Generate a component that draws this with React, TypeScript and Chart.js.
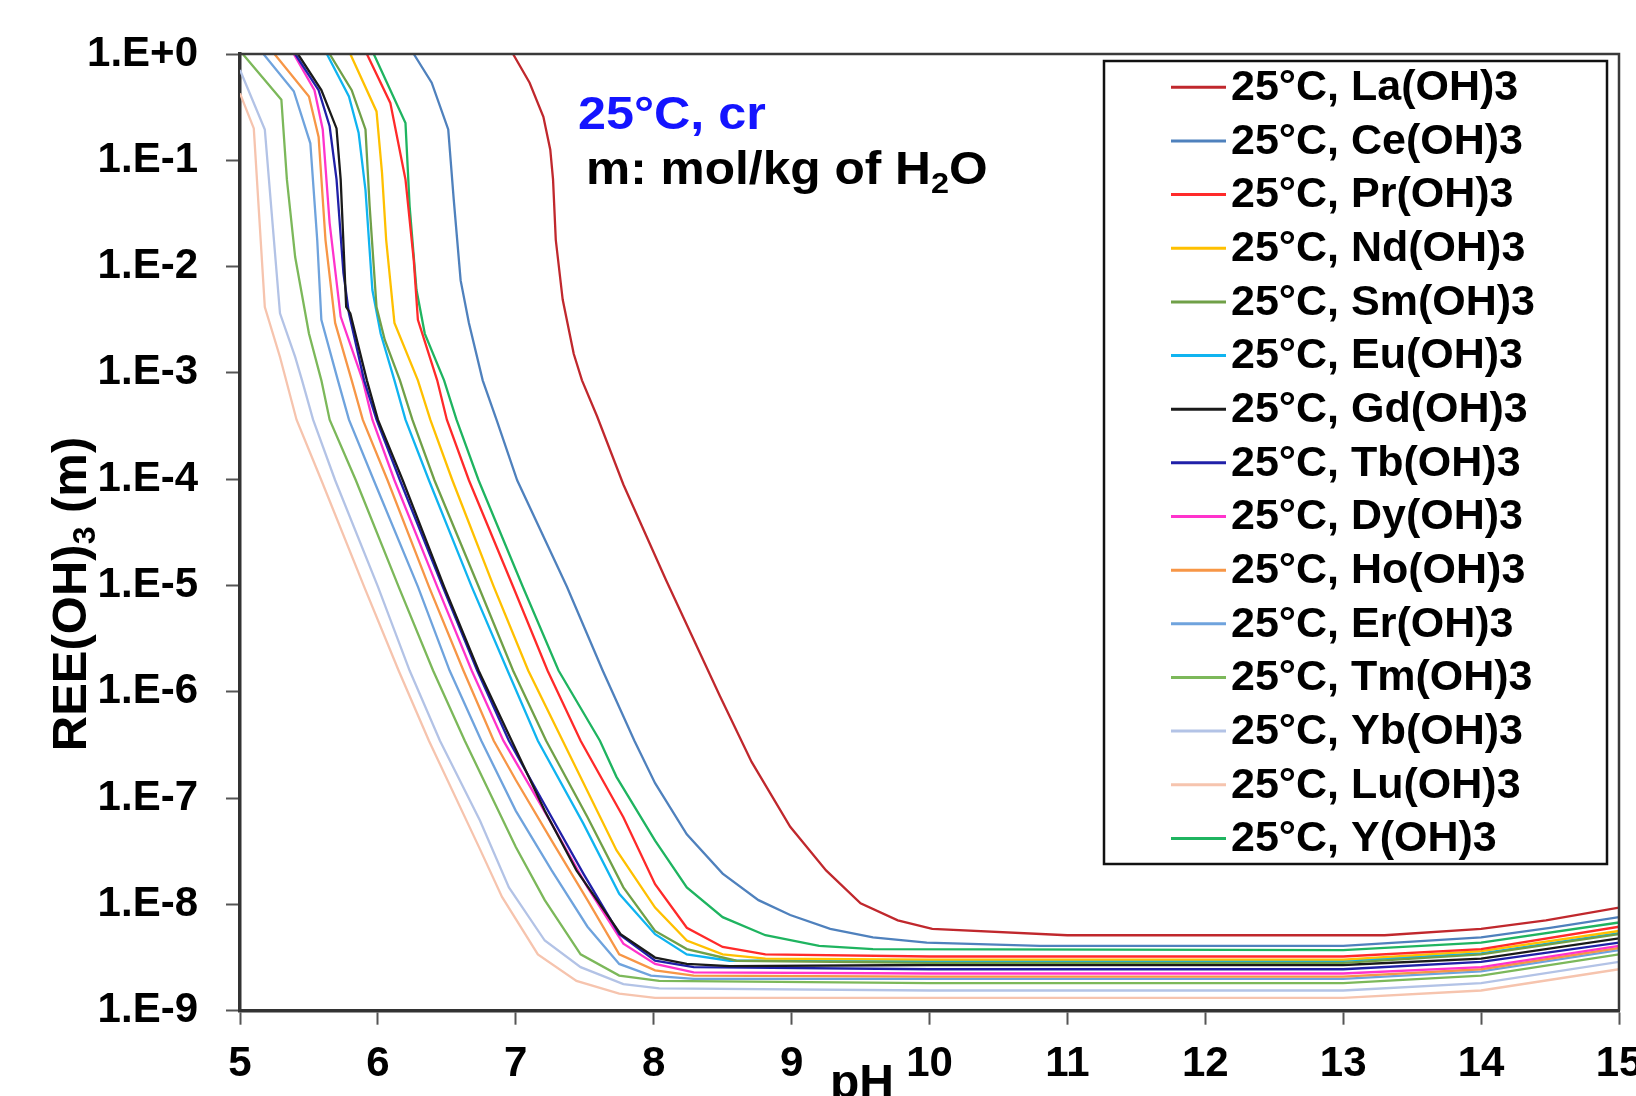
import { useEffect, useRef } from 'react';
import { Chart, registerables } from 'chart.js';

Chart.register(...registerables);

const FONT = "'Liberation Sans', Arial, Helvetica, sans-serif";

// ---- data (pH, log10 of molality) ----
const SERIES_LABELS = [
  '25°C, La(OH)3', '25°C, Ce(OH)3', '25°C, Pr(OH)3', '25°C, Nd(OH)3', '25°C, Sm(OH)3',
  '25°C, Eu(OH)3', '25°C, Gd(OH)3', '25°C, Tb(OH)3', '25°C, Dy(OH)3', '25°C, Ho(OH)3',
  '25°C, Er(OH)3', '25°C, Tm(OH)3', '25°C, Yb(OH)3', '25°C, Lu(OH)3', '25°C, Y(OH)3',
];
const SERIES_COLORS = [
  '#C0282D', '#4F81BD', '#FF2A2A', '#FFC000', '#70A048',
  '#10B4F0', '#1A1A1A', '#2020A8', '#FF33CC', '#F79646',
  '#6FA3DD', '#7CB85A', '#B3C3E6', '#F6C4AE', '#1FB460',
];

const LA_PH = [6.98, 7.10, 7.20, 7.25, 7.27, 7.29, 7.34, 7.42, 7.48, 7.59, 7.78, 8.09, 8.48, 8.71, 8.99, 9.25, 9.50, 9.77, 10.02, 11.0, 13.3, 14.0, 14.47, 15.0];
const LA_LOG = [0, -0.27, -0.59, -0.90, -1.18, -1.75, -2.31, -2.82, -3.07, -3.41, -4.05, -4.95, -6.04, -6.66, -7.27, -7.68, -7.99, -8.15, -8.23, -8.29, -8.29, -8.23, -8.15, -8.03];

const CE_PH = [6.26, 6.39, 6.51, 6.55, 6.60, 6.66, 6.76, 6.86, 7.01, 7.37, 7.63, 7.86, 8.01, 8.24, 8.50, 8.76, 8.99, 9.28, 9.59, 9.98, 10.8, 13.0, 14.0, 14.5, 15.0];
const CE_LOG = [0, -0.27, -0.71, -1.37, -2.13, -2.53, -3.07, -3.44, -4.01, -5.01, -5.80, -6.46, -6.86, -7.34, -7.71, -7.96, -8.10, -8.23, -8.31, -8.36, -8.39, -8.39, -8.31, -8.22, -8.12];

const PR_PH = [5.92, 6.09, 6.20, 6.26, 6.29, 6.43, 6.50, 6.66, 6.98, 7.23, 7.47, 7.78, 8.01, 8.24, 8.50, 8.81, 10.0, 13.0, 14.0, 15.0];
const PR_LOG = [0, -0.46, -1.18, -1.94, -2.50, -3.07, -3.44, -4.01, -5.01, -5.80, -6.46, -7.18, -7.81, -8.22, -8.40, -8.47, -8.49, -8.49, -8.42, -8.21];

const ND_PH = [5.80, 5.99, 6.03, 6.06, 6.12, 6.29, 6.38, 6.54, 6.84, 7.09, 7.34, 7.73, 8.01, 8.24, 8.50, 8.81, 10.0, 13.0, 14.0, 15.0];
const ND_LOG = [0, -0.54, -1.12, -1.75, -2.53, -3.07, -3.44, -4.01, -5.01, -5.80, -6.46, -7.49, -8.03, -8.34, -8.47, -8.51, -8.52, -8.52, -8.44, -8.25];

const SM_PH = [5.65, 5.81, 5.91, 5.94, 5.99, 6.05, 6.16, 6.25, 6.41, 6.73, 6.98, 7.22, 7.52, 7.78, 8.01, 8.24, 8.60, 10.0, 13.0, 14.0, 15.0];
const SM_LOG = [0, -0.34, -0.71, -1.43, -2.38, -2.69, -3.07, -3.44, -4.01, -5.01, -5.80, -6.46, -7.18, -7.84, -8.25, -8.42, -8.53, -8.55, -8.55, -8.47, -8.28];

const EU_PH = [5.63, 5.79, 5.86, 5.91, 5.96, 6.02, 6.12, 6.20, 6.37, 6.68, 6.94, 7.16, 7.49, 7.75, 8.01, 8.24, 8.55, 10.0, 13.0, 14.0, 15.0];
const EU_LOG = [0, -0.40, -0.74, -1.28, -2.22, -2.63, -3.07, -3.44, -4.01, -5.01, -5.80, -6.46, -7.24, -7.90, -8.28, -8.47, -8.53, -8.53, -8.53, -8.46, -8.27];

const GD_PH = [5.42, 5.59, 5.70, 5.73, 5.77, 5.80, 5.92, 6.00, 6.18, 6.48, 6.73, 6.97, 7.21, 7.44, 7.76, 8.01, 8.24, 8.55, 10.0, 13.0, 14.0, 15.0];
const GD_LOG = [0, -0.34, -0.70, -1.18, -2.38, -2.44, -3.07, -3.44, -4.01, -5.01, -5.80, -6.46, -7.12, -7.68, -8.28, -8.50, -8.56, -8.58, -8.57, -8.57, -8.51, -8.32];

const TB_PH = [5.40, 5.57, 5.65, 5.70, 5.75, 5.79, 5.90, 5.99, 6.16, 6.47, 6.72, 6.95, 7.26, 7.49, 7.75, 8.01, 8.29, 10.0, 13.0, 14.0, 15.0];
const TB_LOG = [0, -0.34, -0.68, -1.18, -2.06, -2.44, -3.07, -3.44, -4.01, -5.01, -5.80, -6.46, -7.18, -7.71, -8.28, -8.53, -8.59, -8.61, -8.61, -8.54, -8.36];

const DY_PH = [5.39, 5.54, 5.60, 5.65, 5.73, 5.89, 5.96, 6.12, 6.43, 6.68, 6.91, 7.26, 7.52, 7.78, 8.01, 8.29, 10.0, 13.0, 14.0, 15.0];
const DY_LOG = [0, -0.34, -0.71, -1.59, -2.47, -3.07, -3.44, -4.01, -5.01, -5.80, -6.46, -7.24, -7.84, -8.37, -8.56, -8.64, -8.65, -8.65, -8.59, -8.39];

const HO_PH = [5.25, 5.50, 5.57, 5.62, 5.69, 5.81, 5.89, 6.07, 6.37, 6.62, 6.84, 7.00, 7.26, 7.52, 7.75, 8.01, 8.29, 10.0, 13.0, 14.0, 15.0];
const HO_LOG = [0, -0.40, -0.78, -1.75, -2.53, -3.07, -3.44, -4.01, -5.01, -5.80, -6.46, -6.83, -7.40, -7.96, -8.47, -8.62, -8.67, -8.68, -8.68, -8.61, -8.41];

const ER_PH = [5.17, 5.39, 5.51, 5.56, 5.59, 5.71, 5.79, 5.97, 6.29, 6.52, 6.75, 7.00, 7.26, 7.52, 7.75, 7.98, 8.29, 10.0, 13.0, 14.0, 15.0];
const ER_LOG = [0, -0.35, -0.84, -1.75, -2.50, -3.07, -3.44, -4.01, -5.01, -5.80, -6.46, -7.12, -7.68, -8.21, -8.56, -8.67, -8.70, -8.70, -8.70, -8.63, -8.43];

const TM_PH = [5.02, 5.30, 5.34, 5.40, 5.50, 5.59, 5.65, 5.84, 6.15, 6.40, 6.63, 7.00, 7.21, 7.47, 7.75, 8.04, 10.0, 13.0, 14.0, 15.0];
const TM_LOG = [0, -0.43, -1.18, -1.91, -2.63, -3.07, -3.44, -4.01, -5.01, -5.80, -6.46, -7.46, -7.96, -8.47, -8.67, -8.72, -8.74, -8.74, -8.67, -8.47];

const YB_PH = [5.00, 5.18, 5.23, 5.29, 5.40, 5.45, 5.53, 5.69, 6.00, 6.23, 6.45, 6.74, 6.95, 7.21, 7.47, 7.78, 8.04, 10.0, 13.0, 14.0, 15.0];
const YB_LOG = [-0.15, -0.71, -1.50, -2.44, -2.85, -3.07, -3.44, -4.01, -5.01, -5.80, -6.46, -7.21, -7.84, -8.34, -8.59, -8.75, -8.79, -8.81, -8.81, -8.74, -8.54];

const LU_PH = [5.00, 5.10, 5.18, 5.29, 5.41, 5.59, 5.90, 6.15, 6.37, 6.74, 6.90, 7.16, 7.44, 7.75, 8.01, 10.0, 13.0, 14.0, 15.0];
const LU_LOG = [-0.37, -0.70, -2.38, -2.85, -3.44, -4.01, -5.01, -5.80, -6.46, -7.48, -7.93, -8.47, -8.72, -8.84, -8.88, -8.88, -8.88, -8.81, -8.61];

const Y_PH = [5.97, 6.20, 6.23, 6.28, 6.34, 6.48, 6.57, 6.73, 7.05, 7.31, 7.61, 7.73, 8.01, 8.24, 8.50, 8.81, 9.20, 9.59, 13.0, 14.0, 15.0];
const Y_LOG = [0, -0.65, -1.43, -2.22, -2.63, -3.07, -3.44, -4.01, -5.01, -5.80, -6.46, -6.80, -7.40, -7.84, -8.12, -8.29, -8.39, -8.42, -8.43, -8.36, -8.17];

const SERIES_PH = [LA_PH, CE_PH, PR_PH, ND_PH, SM_PH, EU_PH, GD_PH, TB_PH, DY_PH, HO_PH, ER_PH, TM_PH, YB_PH, LU_PH, Y_PH];
const SERIES_LOG = [LA_LOG, CE_LOG, PR_LOG, ND_LOG, SM_LOG, EU_LOG, GD_LOG, TB_LOG, DY_LOG, HO_LOG, ER_LOG, TM_LOG, YB_LOG, LU_LOG, Y_LOG];

const X_TICKS = [5, 6, 7, 8, 9, 10, 11, 12, 13, 14, 15];
const Y_TICK_VALUES = [1e-9, 1e-8, 1e-7, 1e-6, 1e-5, 1e-4, 1e-3, 1e-2, 1e-1, 1];
const Y_TICK_LABELS = ['1.E-9', '1.E-8', '1.E-7', '1.E-6', '1.E-5', '1.E-4', '1.E-3', '1.E-2', '1.E-1', '1.E+0'];

const NOTE_LINE1 = '25°C, cr';
const NOTE_LINE2_A = 'm: mol/kg of H';
const NOTE_LINE2_SUB = '2';
const NOTE_LINE2_B = 'O';
const Y_TITLE_A = 'REE(OH)';
const Y_TITLE_SUB = '3';
const Y_TITLE_B = ' (m)';
const X_TITLE = 'pH';

const W = 1636;
const H = 1096;

const overlayPlugin = {
  id: 'overlay',
  afterDraw(chart: any) {
    const ctx: CanvasRenderingContext2D = chart.ctx;
    const { left, top, right, bottom } = chart.chartArea;
    ctx.save();

    // top and right frame lines
    ctx.strokeStyle = '#3a3a3a';
    ctx.lineWidth = 2.5;
    ctx.beginPath();
    ctx.moveTo(left, top);
    ctx.lineTo(right, top);
    ctx.lineTo(right, bottom);
    ctx.stroke();

    // annotation text (slightly wide, as in the picture)
    ctx.textBaseline = 'alphabetic';
    ctx.textAlign = 'left';
    ctx.save();
    ctx.translate(578, 0);
    ctx.scale(1.07, 1);
    ctx.fillStyle = '#1414FF';
    ctx.font = `bold 47px ${FONT}`;
    ctx.fillText(NOTE_LINE1, 0, 129);
    ctx.restore();

    ctx.save();
    ctx.translate(586, 0);
    ctx.scale(1.08, 1);
    ctx.fillStyle = '#000';
    ctx.font = `bold 46px ${FONT}`;
    let x = 0;
    ctx.fillText(NOTE_LINE2_A, x, 184);
    x += ctx.measureText(NOTE_LINE2_A).width;
    ctx.font = `bold 30px ${FONT}`;
    ctx.fillText(NOTE_LINE2_SUB, x, 193);
    x += ctx.measureText(NOTE_LINE2_SUB).width;
    ctx.font = `bold 46px ${FONT}`;
    ctx.fillText(NOTE_LINE2_B, x, 184);
    ctx.restore();

    // legend box
    const lx = 1104, ly = 61, lw = 503, lh = 803;
    ctx.fillStyle = '#fff';
    ctx.fillRect(lx, ly, lw, lh);
    ctx.strokeStyle = '#111';
    ctx.lineWidth = 2.5;
    ctx.strokeRect(lx, ly, lw, lh);
    ctx.font = `bold 43px ${FONT}`;
    ctx.textBaseline = 'middle';
    chart.data.datasets.forEach((ds: any, i: number) => {
      const yy = 87.3 + i * 53.65;
      ctx.strokeStyle = ds.borderColor;
      ctx.lineWidth = 3;
      ctx.beginPath();
      ctx.moveTo(1171, yy);
      ctx.lineTo(1226, yy);
      ctx.stroke();
      ctx.fillStyle = '#000';
      ctx.fillText(ds.label, 1231, yy + 1);
    });

    // y title (rotated, with subscript)
    ctx.save();
    ctx.translate(86, 594);
    ctx.rotate(-Math.PI / 2);
    ctx.textBaseline = 'alphabetic';
    const big = `bold 49px ${FONT}`;
    const small = `bold 32px ${FONT}`;
    ctx.font = big;
    const wA = ctx.measureText(Y_TITLE_A).width;
    const wB = ctx.measureText(Y_TITLE_B).width;
    ctx.font = small;
    const wS = ctx.measureText(Y_TITLE_SUB).width;
    let tx = -(wA + wB + wS) / 2;
    ctx.fillStyle = '#000';
    ctx.font = big;
    ctx.fillText(Y_TITLE_A, tx, 0);
    tx += wA;
    ctx.font = small;
    ctx.fillText(Y_TITLE_SUB, tx, 9);
    tx += wS;
    ctx.font = big;
    ctx.fillText(Y_TITLE_B, tx, 0);
    ctx.restore();

    // x title
    ctx.font = `bold 48px ${FONT}`;
    ctx.textBaseline = 'alphabetic';
    ctx.fillStyle = '#000';
    ctx.fillText(X_TITLE, 830, 1098);

    ctx.restore();
  },
};

export default function App() {
  const canvasRef = useRef<HTMLCanvasElement | null>(null);

  useEffect(() => {
    if (!canvasRef.current) return;
    const datasets = SERIES_LABELS.map((label, i) => ({
      label,
      data: SERIES_PH[i].map((p, j) => ({ x: p, y: Math.pow(10, SERIES_LOG[i][j]) })),
      borderColor: SERIES_COLORS[i],
      backgroundColor: SERIES_COLORS[i],
      borderWidth: 2.3,
      pointRadius: 0,
      tension: 0,
      fill: false,
    }));

    const chart = new Chart(canvasRef.current, {
      type: 'line',
      data: { datasets },
      options: {
        animation: false,
        responsive: false,
        devicePixelRatio: 1,
        layout: { padding: { left: 0, right: 17, top: 54, bottom: 0 } },
        plugins: { legend: { display: false }, tooltip: { enabled: false }, title: { display: false } },
        scales: {
          x: {
            type: 'linear',
            min: 5,
            max: 15,
            afterBuildTicks: (scale: any) => {
              scale.ticks = X_TICKS.map((v) => ({ value: v }));
            },
            afterFit: (scale: any) => {
              scale.height = 85.3;
              scale.paddingRight = 0;
              scale.paddingLeft = 0;
            },
            ticks: {
              autoSkip: false,
              maxRotation: 0,
              padding: 15,
              color: '#000',
              font: { family: FONT, size: 42, weight: 'bold' },
              callback: (v: any) => String(v),
            },
            grid: {
              display: true,
              drawOnChartArea: false,
              drawTicks: true,
              tickLength: 14,
              tickColor: '#555',
              tickWidth: 2,
            },
            border: { display: true, color: '#333', width: 3.5 },
          },
          y: {
            type: 'logarithmic',
            min: 1e-9,
            max: 1,
            afterBuildTicks: (scale: any) => {
              scale.ticks = Y_TICK_VALUES.map((v) => ({ value: v }));
            },
            afterFit: (scale: any) => {
              scale.width = 240;
            },
            ticks: {
              autoSkip: false,
              padding: 28,
              color: '#000',
              font: { family: FONT, size: 42, weight: 'bold' },
              callback: (v: any) => {
                const idx = Y_TICK_VALUES.findIndex((t) => Math.abs(Math.log10(t) - Math.log10(Number(v))) < 1e-6);
                return idx >= 0 ? Y_TICK_LABELS[idx] : '';
              },
            },
            grid: {
              display: true,
              drawOnChartArea: false,
              drawTicks: true,
              tickLength: 14,
              tickColor: '#555',
              tickWidth: 2,
            },
            border: { display: true, color: '#333', width: 3.5 },
          },
        },
      },
      plugins: [overlayPlugin],
    } as any);

    return () => chart.destroy();
  }, []);

  return (
    <div style={{ position: 'fixed', left: 0, top: 0, width: W, height: H, background: '#fff', overflow: 'hidden' }}>
      <canvas ref={canvasRef} width={W} height={H} style={{ display: 'block' }} />
    </div>
  );
}
